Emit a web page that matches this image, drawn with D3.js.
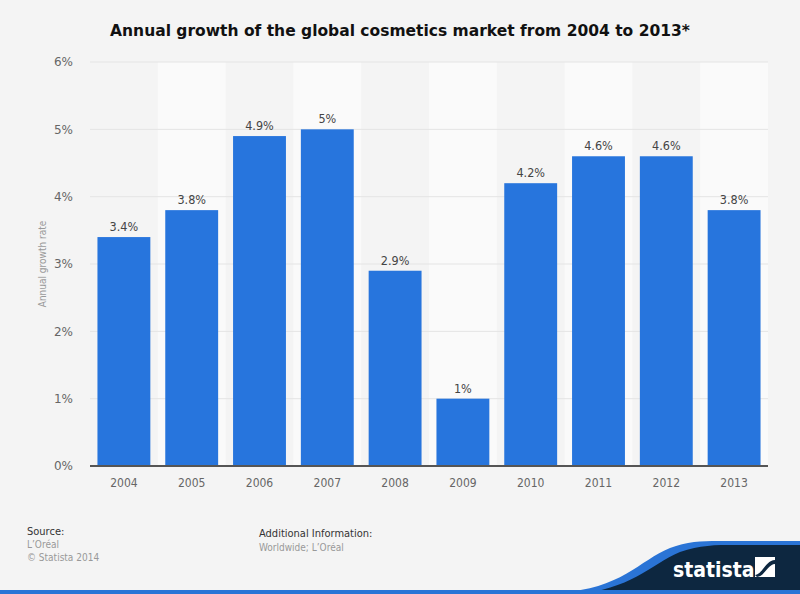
<!DOCTYPE html>
<html><head><meta charset="utf-8">
<script src="https://cdn.jsdelivr.net/npm/d3@7"></script>
<style>body{margin:0;background:#f4f4f4}svg{display:block}</style>
</head><body>
<svg id="c" width="800" height="594"></svg>
<script>
const years = ["2004","2005","2006","2007","2008","2009","2010","2011","2012","2013"];
const growth = [3.4,3.8,4.9,5,2.9,1,4.2,4.6,4.6,3.8];
const yTicks = [0,1,2,3,4,5,6];

const svg = d3.select("#c");
const W=800,H=594;
svg.append("rect").attr("width",W).attr("height",H).attr("fill","#f4f4f4");
const m={l:90,r:768,t:62,b:466};
const x=d3.scaleBand().domain(years).range([m.l,m.r]).paddingInner(0.22).paddingOuter(0.11);
const y=d3.scaleLinear().domain([0,6]).range([m.b,m.t]);
const step=x.step();
// alternating bands
svg.append("g").selectAll("rect").data(years.filter((d,i)=>i%2===1)).join("rect")
 .attr("x",d=>x(d)+x.bandwidth()/2-step/2)
 .attr("width",step).attr("y",m.t).attr("height",m.b-m.t).attr("fill","#fafafa");
// grid
svg.append("g").selectAll("line").data(yTicks.slice(1)).join("line")
 .attr("x1",m.l).attr("x2",m.r).attr("y1",d=>y(d)).attr("y2",d=>y(d))
 .attr("stroke","#e4e4e4").attr("stroke-width",1);
// y axis labels
const yAxis=d3.axisLeft(y).tickValues(yTicks).tickFormat(d=>d+"%").tickSize(0).tickPadding(0);
const gy=svg.append("g").attr("transform",`translate(${m.l-17},0)`).call(yAxis);
gy.select(".domain").remove();
gy.selectAll("text").attr("fill","#666").style("font-family","DejaVu Sans").style("font-size","12px");
// bars
svg.append("g").selectAll("rect").data(years).join("rect")
 .attr("x",d=>x(d)).attr("width",x.bandwidth())
 .attr("y",(d,i)=>y(growth[i])).attr("height",(d,i)=>y(0)-y(growth[i]))
 .attr("fill","#2775dd");
// value labels
svg.append("g").selectAll("text").data(years).join("text")
 .attr("x",d=>x(d)+x.bandwidth()/2).attr("y",(d,i)=>y(growth[i])-6)
 .attr("text-anchor","middle").attr("fill","#444")
 .style("font-family","DejaVu Sans Condensed, DejaVu Sans").style("font-size","12.5px")
 .text((d,i)=>growth[i]+"%");
// x axis
const xAxis=d3.axisBottom(x).tickSize(0).tickPadding(12);
const gx=svg.append("g").attr("transform",`translate(0,${m.b})`).call(xAxis);
gx.select(".domain").attr("stroke","#555").attr("stroke-width",2).attr("d",`M${m.l},0H${m.r}`);
gx.selectAll("text").attr("fill","#666").style("font-family","DejaVu Sans Condensed, DejaVu Sans").style("font-size","12px");
// y title
svg.append("text").attr("transform","translate(46,264) rotate(-90)").attr("text-anchor","middle")
 .attr("fill","#999").style("font-family","DejaVu Sans Condensed, DejaVu Sans").style("font-size","10px").text("Annual growth rate");
// title
svg.append("text").attr("x",400).attr("y",36).attr("text-anchor","middle").attr("fill","#111")
 .style("font-family","DejaVu Sans").style("font-weight","bold").style("font-size","15.5px")
 .text("Annual growth of the global cosmetics market from 2004 to 2013*");
// footer
const f=svg.append("g").style("font-family","DejaVu Sans Condensed, DejaVu Sans").style("font-size","11px");
f.append("text").attr("x",27).attr("y",535).attr("fill","#333").text("Source:");
f.append("text").attr("x",27).attr("y",548).attr("fill","#999").style("font-size","10px").text("L’Oréal");
f.append("text").attr("x",27).attr("y",561).attr("fill","#999").style("font-size","10px").text("© Statista 2014");
f.append("text").attr("x",259).attr("y",537).attr("fill","#333").text("Additional Information:");
f.append("text").attr("x",259).attr("y",551).attr("fill","#999").style("font-size","10px").text("Worldwide; L’Oréal");
// logo
svg.append("path").attr("d","M560,594 L560,592 C620,590 640,560 670,548 C690,540 710,541 730,541 L800,541 L800,594 Z").attr("fill","#2a74d6");
svg.append("path").attr("d","M575,594 C630,590 650,565 680,552 C700,545 715,545 735,545 L800,545 L800,594 Z").attr("fill","#0d2740");
svg.append("rect").attr("x",0).attr("y",590).attr("width",800).attr("height",4).attr("fill","#2a74d6");
svg.append("text").attr("x",673).attr("y",577).attr("fill","#fff").style("font-family","DejaVu Sans Condensed, DejaVu Sans").style("font-weight","bold").style("font-size","21px").text("statista");
svg.append("path").attr("d","M755,557 H775 V577 H755 Z").attr("fill","#fff");
svg.append("path").attr("d","M755,575 C762,575 766,560 775,560 L775,564 C768,564 764,577 757,577 Z").attr("fill","#0d2740");
</script>
</body></html>
